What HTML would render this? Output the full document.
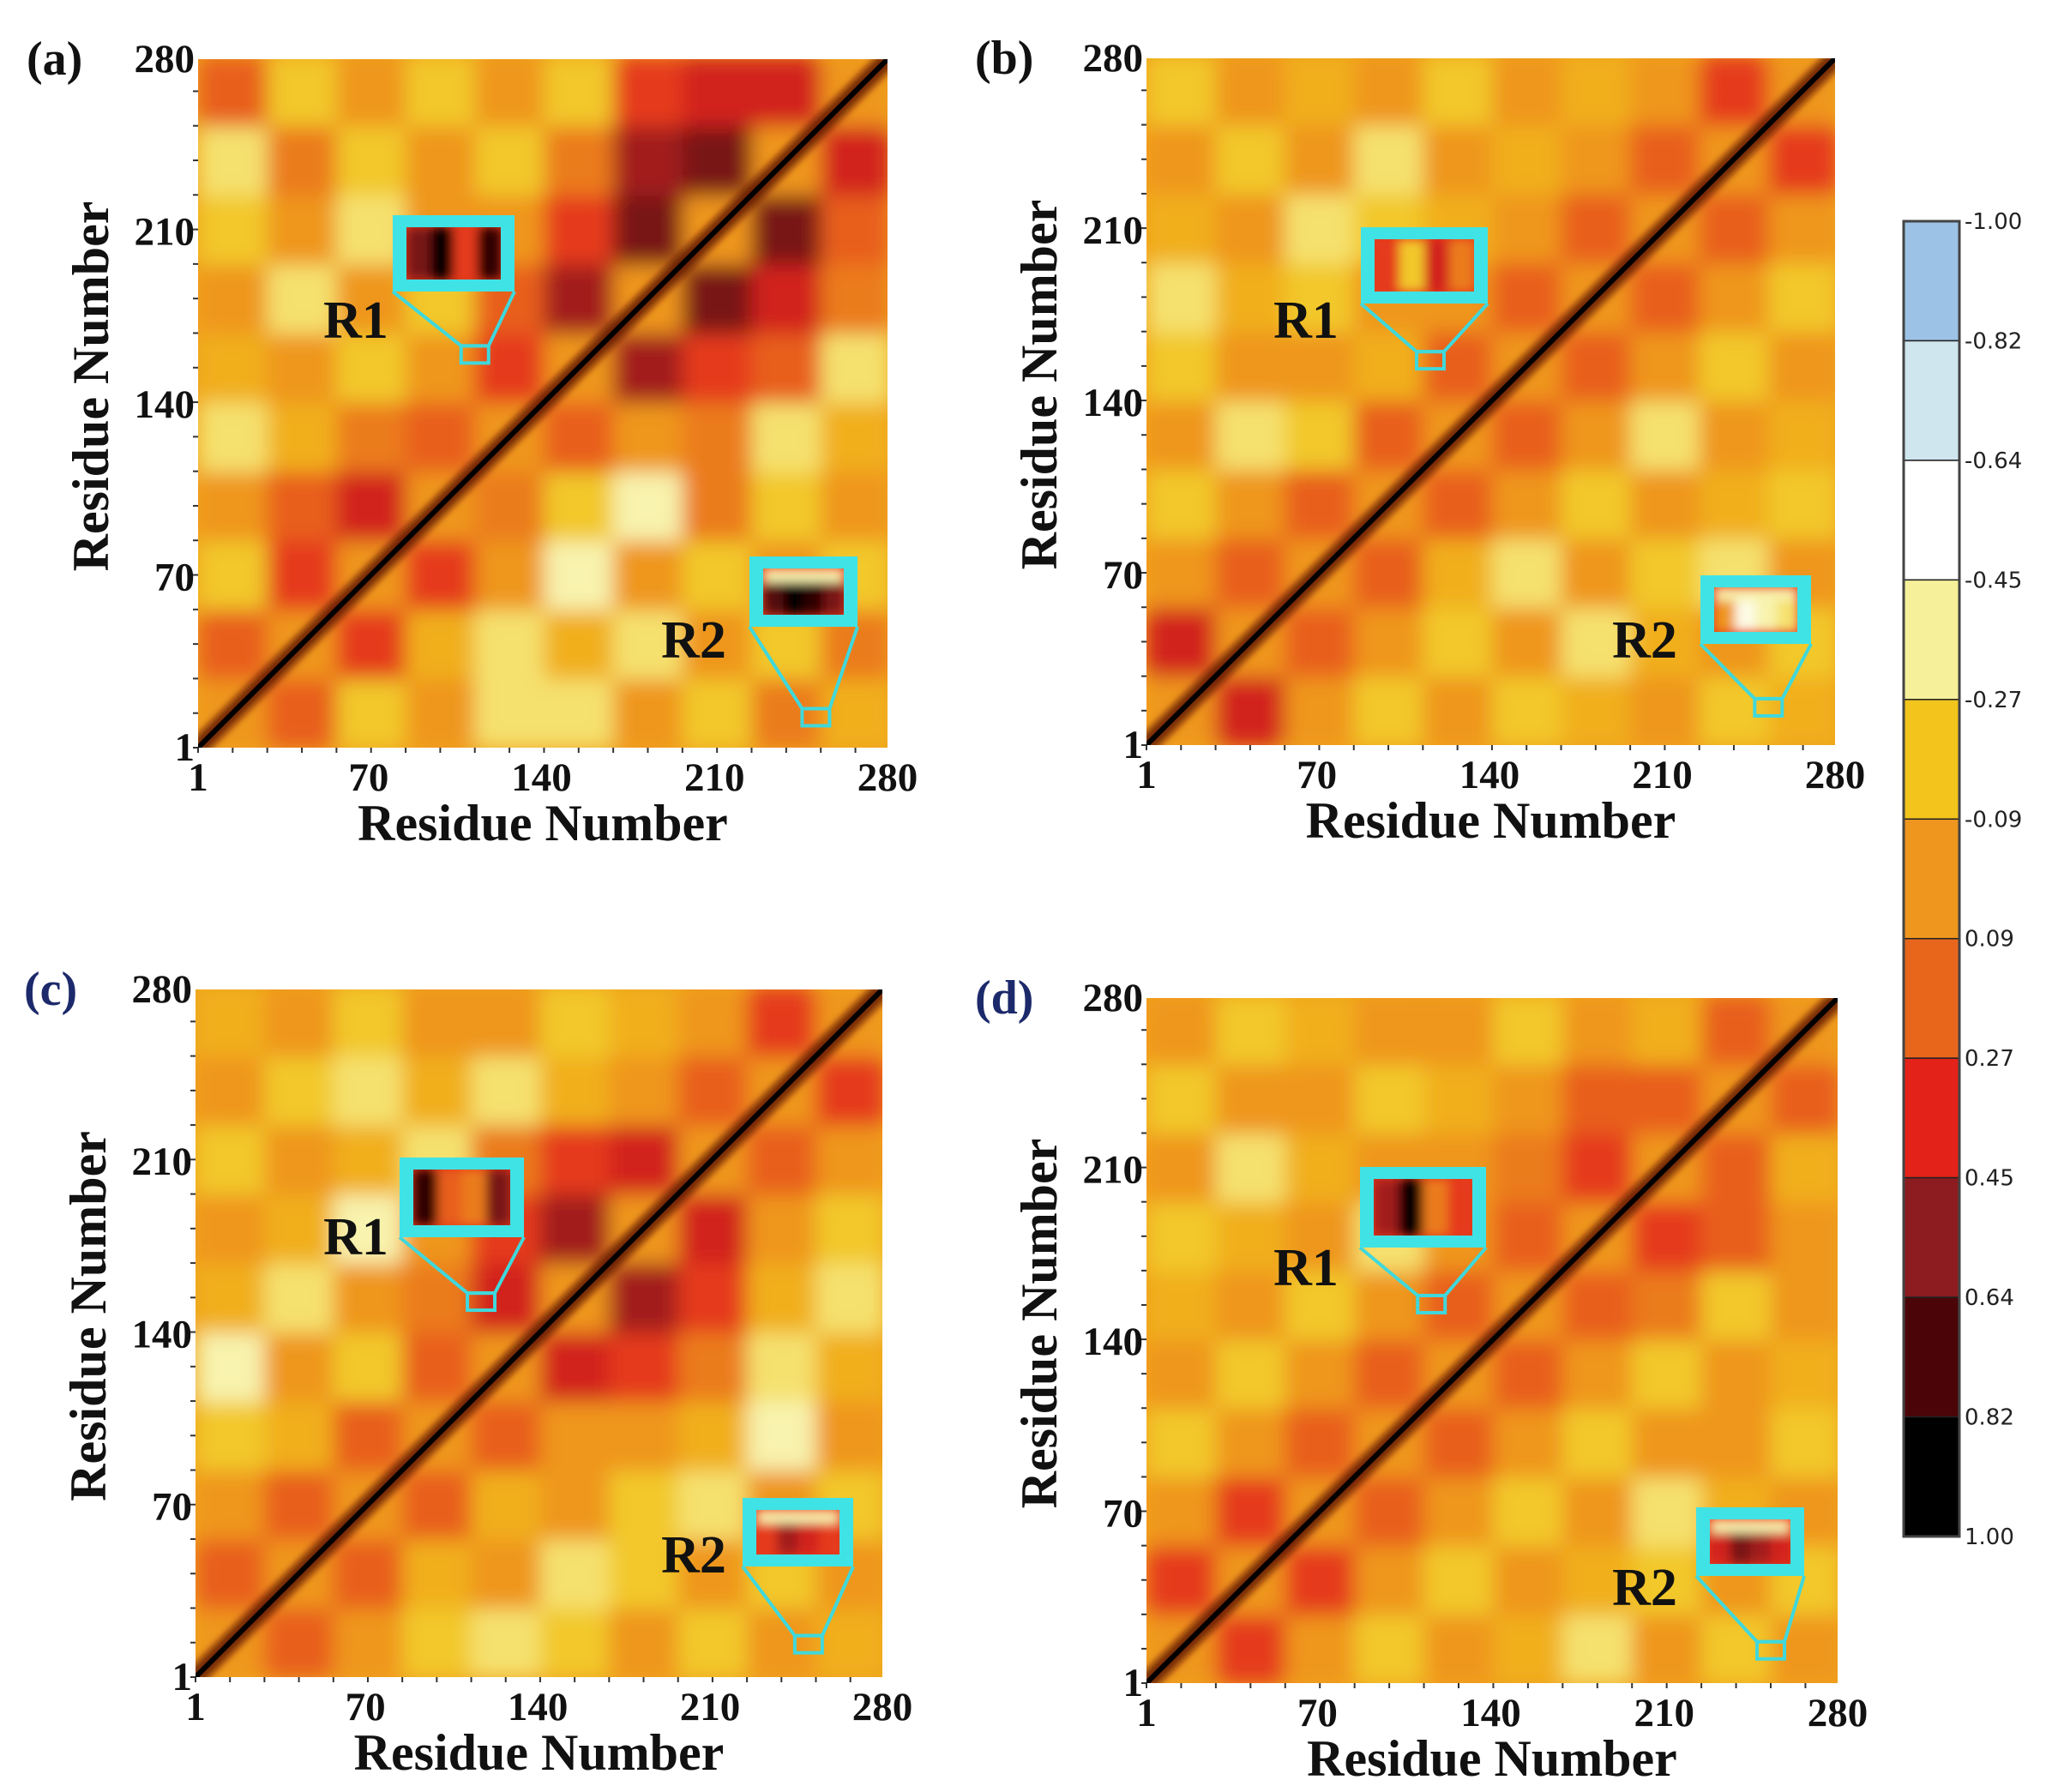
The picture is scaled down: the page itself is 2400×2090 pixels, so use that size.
<!DOCTYPE html>
<html><head><meta charset="utf-8">
<style>
html,body{margin:0;padding:0;background:#fff;}
svg{display:block;}
.tk{font-family:"Liberation Serif",serif;font-weight:bold;font-size:47px;fill:#111;}
.ttl{font-family:"Liberation Serif",serif;font-weight:bold;font-size:60px;fill:#111;}
.pl{font-family:"Liberation Serif",serif;font-weight:bold;font-size:56px;}
.rl{font-family:"Liberation Serif",serif;font-weight:bold;font-size:62px;fill:#111;}
.cb{font-family:"DejaVu Sans",sans-serif;font-size:26px;fill:#222;}
</style></head>
<body>
<svg id="fig" width="2400" height="2090" viewBox="0 0 2400 2090" xmlns="http://www.w3.org/2000/svg">
<defs>
<filter id="soft" x="-5%" y="-5%" width="110%" height="110%"><feGaussianBlur stdDeviation="12"/></filter>
<filter id="soft2"><feGaussianBlur stdDeviation="6"/></filter>
<filter id="soft3"><feGaussianBlur stdDeviation="4"/></filter>
</defs>
</svg>
<script>
// ---- data ----
const tickValues = [1, 70, 140, 210, 280];
const colorbarLabels = ["-1.00","-0.82","-0.64","-0.45","-0.27","-0.09","0.09","0.27","0.45","0.64","0.82","1.00"];
const colorbarColors = ["#9cc3e6","#cfe6ef","#ffffff","#f6f09a","#f2c41c","#ef961e","#e8661c","#e32219","#8c1c20","#4b0508","#000000"];
const panelLetters = ["(a)","(b)","(c)","(d)"];
// coarse correlation matrices, rows from residue 1 upward, cols left->right (10 bins of 28 residues)
const matrixA = [
[0.9,0.2,-0.2,0.0,-0.3,-0.3,0.0,-0.2,0.1,-0.1],
[0.2,0.9,0.3,-0.1,-0.3,-0.1,-0.3,0.0,-0.2,0.1],
[-0.2,0.3,0.9,0.3,0.0,-0.4,0.0,-0.2,0.0,-0.2],
[0.0,0.2,0.4,0.9,0.1,-0.2,-0.4,0.1,-0.2,0.0],
[-0.3,-0.1,0.1,0.2,0.9,0.2,0.0,0.1,-0.3,-0.1],
[-0.1,0.0,-0.2,0.0,0.3,0.9,0.5,0.3,0.2,-0.3],
[0.0,-0.3,0.0,-0.2,0.2,0.5,0.9,0.6,0.4,0.1],
[-0.2,0.0,-0.3,0.0,0.0,0.3,0.6,0.9,0.6,0.2],
[-0.3,0.1,-0.2,0.0,-0.2,0.1,0.5,0.6,0.9,0.4],
[0.2,-0.2,0.0,-0.2,0.0,-0.2,0.3,0.4,0.4,0.9]];
const matrixB = [
[0.9,0.4,0.0,-0.2,0.0,-0.2,-0.1,0.0,-0.2,-0.1],
[0.4,0.9,0.2,0.0,-0.2,0.0,-0.3,-0.1,0.0,-0.2],
[0.0,0.2,0.9,0.2,-0.1,-0.3,0.0,-0.2,-0.3,0.0],
[-0.2,0.0,0.2,0.9,0.2,0.0,-0.2,0.0,-0.1,-0.2],
[0.0,-0.3,-0.2,0.2,0.9,0.2,0.0,-0.3,0.0,-0.1],
[-0.2,0.0,0.0,-0.1,0.2,0.9,0.2,0.0,-0.2,0.0],
[-0.3,-0.1,-0.2,0.0,0.0,0.2,0.9,0.2,0.0,-0.2],
[-0.1,0.0,-0.3,-0.2,-0.1,0.0,0.2,0.9,0.2,0.0],
[0.0,-0.2,0.0,-0.3,0.0,-0.1,0.0,0.2,0.9,0.3],
[-0.2,0.0,-0.1,0.0,-0.2,0.0,-0.1,0.0,0.3,0.9]];
const matrixC = [
[0.9,0.2,0.0,-0.2,-0.3,-0.2,0.0,-0.2,0.0,-0.1],
[0.2,0.9,0.2,-0.1,0.0,-0.3,-0.2,0.0,-0.2,0.0],
[0.0,0.2,0.9,0.2,-0.1,0.0,-0.2,-0.3,0.0,-0.2],
[-0.2,-0.1,0.2,0.9,0.2,0.0,0.0,-0.1,-0.4,0.0],
[-0.4,0.0,-0.2,0.2,0.9,0.4,0.3,0.1,-0.3,-0.1],
[-0.1,-0.3,0.0,0.1,0.4,0.9,0.5,0.3,-0.1,-0.3],
[0.0,-0.1,-0.4,0.0,0.3,0.5,0.9,0.4,0.0,-0.2],
[-0.2,0.0,-0.1,-0.3,0.1,0.3,0.4,0.9,0.2,0.0],
[0.0,-0.2,-0.3,-0.1,-0.3,-0.1,0.0,0.2,0.9,0.3],
[-0.1,0.0,-0.2,0.0,0.0,-0.2,-0.1,0.0,0.3,0.9]];
const matrixD = [
[0.9,0.3,0.0,-0.2,0.0,-0.1,-0.3,0.0,-0.2,0.0],
[0.3,0.9,0.3,0.0,-0.2,0.0,-0.1,-0.2,0.0,-0.2],
[0.0,0.3,0.9,0.2,0.0,-0.2,0.0,-0.3,-0.1,0.0],
[-0.2,0.0,0.2,0.9,0.2,0.0,-0.2,0.0,0.0,-0.2],
[0.0,-0.2,0.0,0.2,0.9,0.2,0.0,-0.2,0.0,-0.1],
[-0.1,0.0,-0.2,0.0,0.2,0.9,0.2,0.1,-0.2,0.0],
[-0.2,-0.1,0.0,-0.3,0.0,0.2,0.9,0.3,0.2,0.0],
[0.0,-0.3,-0.1,0.0,0.0,0.1,0.3,0.9,0.2,-0.1],
[-0.2,0.0,0.0,-0.2,-0.1,0.0,0.2,0.2,0.9,0.2],
[0.0,-0.2,-0.1,0.0,0.0,-0.2,0.0,-0.1,0.2,0.9]];
const matrices = [matrixA, matrixB, matrixC, matrixD];
// inset (zoomed region) values, left->right
const insetR1 = [[0.6,0.9,0.3,0.8],[0.3,-0.2,0.4,0.1],[0.8,0.2,0.1,0.6],[0.5,0.95,0.1,0.3]];
const insetR2 = [[0.7,0.9,0.8,0.6],[0.0,-0.5,-0.4,-0.3],[0.3,0.5,0.4,0.3],[0.4,0.6,0.5,0.4]];
// region residue positions [x residue, y residue]
const r1Pos = [[113,160],[116,157],[117,153],[116,155]];
const r2Pos = [[251,13],[253,16],[250,14],[253,14]];

// ---- layout ----
const panels = [
 {x0:231,x1:1035,y0:69,y1:872, in1:[458,251,142,89], in2:[874,649,126,82], l1:[415,372], l2:[809,745], lc:"#111"},
 {x0:1337,x1:2140,y0:68,y1:869, in1:[1587,265,148,89], in2:[1983,671,129,80], l1:[1523,372], l2:[1918,745], lc:"#111"},
 {x0:228,x1:1029,y0:1154,y1:1956, in1:[466,1350,145,93], in2:[866,1747,129,80], l1:[415,1441], l2:[809,1812], lc:"#1c2a6b"},
 {x0:1337,x1:2143,y0:1164,y1:1963, in1:[1586,1361,147,94], in2:[1978,1758,126,80], l1:[1523,1477], l2:[1918,1850], lc:"#1c2a6b"}];
const NS="http://www.w3.org/2000/svg";
const svg=document.getElementById('fig');
function mk(tag,attrs,parent){const e=document.createElementNS(NS,tag);for(const k in attrs)e.setAttribute(k,attrs[k]);(parent||svg).appendChild(e);return e;}
function hex(h){return [parseInt(h.slice(1,3),16),parseInt(h.slice(3,5),16),parseInt(h.slice(5,7),16)];}
function colorOf(v){
  const t=Math.max(0,Math.min(0.9999,(v+1)/2))*colorbarColors.length-0.5;
  const i=Math.max(0,Math.min(colorbarColors.length-2,Math.floor(t)));const f=Math.max(0,Math.min(1,t-i));
  const a=hex(colorbarColors[i]),b=hex(colorbarColors[i+1]);
  return "rgb("+a.map((c,k)=>Math.round(c+(b[k]-c)*f)).join(",")+")";
}

panels.forEach((p,pi)=>{
  const g=mk('g',{});
  
  
  const sx=r=>p.x0+(r-1)/279*(p.x1-p.x0);
  const sy=r=>p.y1-(r-1)/279*(p.y1-p.y0);
  const cid='clip'+pi;
  const cp=mk('clipPath',{id:cid},g);mk('rect',{x:p.x0,y:p.y0,width:p.x1-p.x0,height:p.y1-p.y0},cp);
  const hm=mk('g',{'clip-path':'url(#'+cid+')'},g);
  
  
  mk('rect',{x:p.x0,y:p.y0,width:p.x1-p.x0,height:p.y1-p.y0,fill:colorOf(-0.05)},hm);
  const bl=mk('g',{filter:'url(#soft)'},hm);
  const M=matrices[pi],n=M.length,bw=280/n;
  M.forEach((row,r)=>row.forEach((v,c)=>{
    const rx=sx(1+c*bw),ry=sy(1+(r+1)*bw);
    const cell=mk('rect',{x:rx,y:ry,width:sx(1+(c+1)*bw)-rx+1,height:sy(1+r*bw)-ry+1,fill:colorOf(r===c?0.0:v)},bl);
    
    
  }));
  const dgb=mk('g',{filter:'url(#soft3)'},hm);
  const dg=mk('line',{x1:sx(1),y1:sy(1),x2:sx(280),y2:sy(280),stroke:'#5a0a08','stroke-width':22,'stroke-opacity':0.8},dgb);
  
  
  mk('line',{x1:sx(1),y1:sy(1),x2:sx(280),y2:sy(280),stroke:'#000','stroke-width':6},hm);
  // ticks
  tickValues.forEach(t=>{
    const xl=mk('text',{x:sx(t),y:p.y1+50,'text-anchor':'middle',class:'tk'},g);xl.textContent=t;
    
    
    const yl=mk('text',{x:p.x0-4,y:sy(t)+15,'text-anchor':'end',class:'tk'},g);yl.textContent=t;
    
    
  });
  for(let t=1;t<=280;t+=14){
    mk('line',{x1:sx(t),y1:p.y1,x2:sx(t),y2:p.y1+6,stroke:'#333','stroke-width':2},g);
    mk('line',{x1:p.x0-6,y1:sy(t),x2:p.x0,y2:sy(t),stroke:'#333','stroke-width':2},g);
  }
  const xt=mk('text',{x:(p.x0+p.x1)/2,y:p.y1+108,'text-anchor':'middle',class:'ttl'},g);xt.textContent="Residue Number";
  
  
  const cy=(p.y0+p.y1)/2;
  const yt=mk('text',{x:p.x0-85,y:cy,'text-anchor':'middle',class:'ttl',transform:'rotate(-90 '+(p.x0-105)+' '+cy+')'},g);
  yt.textContent="Residue Number";
  
  
  const pl=mk('text',{x:p.x0-200,y:p.y0+18,class:'pl',fill:p.lc},g);pl.textContent=panelLetters[pi];
  
  
  // insets
  [[p.in1,insetR1,r1Pos[pi],p.l1,"R1"],[p.in2,insetR2,r2Pos[pi],p.l2,"R2"]].forEach(([box,vals,pos,lab,name])=>{
    const ig=mk('g',{},g);
    
    
    const [bx,by,bw2,bh]=box;
    const rx=sx(pos[0])-16,ry=sy(pos[1])-11,rw=32,rh=20;
    mk('polyline',{points:`${bx},${by+bh} ${rx},${ry} ${rx+rw},${ry} ${bx+bw2},${by+bh}`,fill:'none',stroke:'#3fd8dc','stroke-width':4},ig);
    mk('rect',{x:rx,y:ry,width:rw,height:rh,fill:'none',stroke:'#3fd8dc','stroke-width':4},ig);
    mk('rect',{x:bx,y:by,width:bw2,height:bh,fill:'#3fe3e6'},ig);
    const ix=bx+16,iy=by+14,iw=bw2-32,ih=bh-28;
    const icp=mk('clipPath',{id:'ic'+pi+name},ig);mk('rect',{x:ix,y:iy,width:iw,height:ih},icp);
    const inner=mk('g',{'clip-path':`url(#ic${pi}${name})`},ig);
    mk('rect',{x:ix,y:iy,width:iw,height:ih,fill:colorOf(0.3)},inner);
    const ib=mk('g',{filter:'url(#soft2)'},inner);
    const vv=vals[pi];
    vv.forEach((v,k)=>{const c=mk('rect',{x:ix+k*iw/vv.length,y:iy+(name==="R2"?ih*0.3:0),width:iw/vv.length+1,height:name==="R2"?ih*0.7:ih,fill:colorOf(v)},ib);
      
      });
    if(name==="R2"){mk('rect',{x:ix,y:iy,width:iw,height:ih*0.3,fill:colorOf(-0.4)},ib);}
    const t=mk('text',{x:lab[0],y:lab[1]+22,'text-anchor':'middle',class:'rl'},ig);t.textContent=name;
    
    
  });
});
// colorbar
const cbg=mk('g',{});


const cbx=2220,cbw=65,cby0=258,cby1=1792,seg=(cby1-cby0)/colorbarColors.length;
colorbarColors.forEach((c,i)=>{const r=mk('rect',{x:cbx,y:cby0+i*seg,width:cbw,height:seg,fill:c,stroke:'#222','stroke-width':1.5},cbg);
  
  });
mk('rect',{x:cbx,y:cby0,width:cbw,height:cby1-cby0,fill:'none',stroke:'#444','stroke-width':3},cbg);
colorbarLabels.forEach((l,i)=>{const t=mk('text',{x:cbx+cbw+6,y:cby0+i*seg+9,class:'cb'},cbg);t.textContent=l;
  
  });
</script>
</body></html>
